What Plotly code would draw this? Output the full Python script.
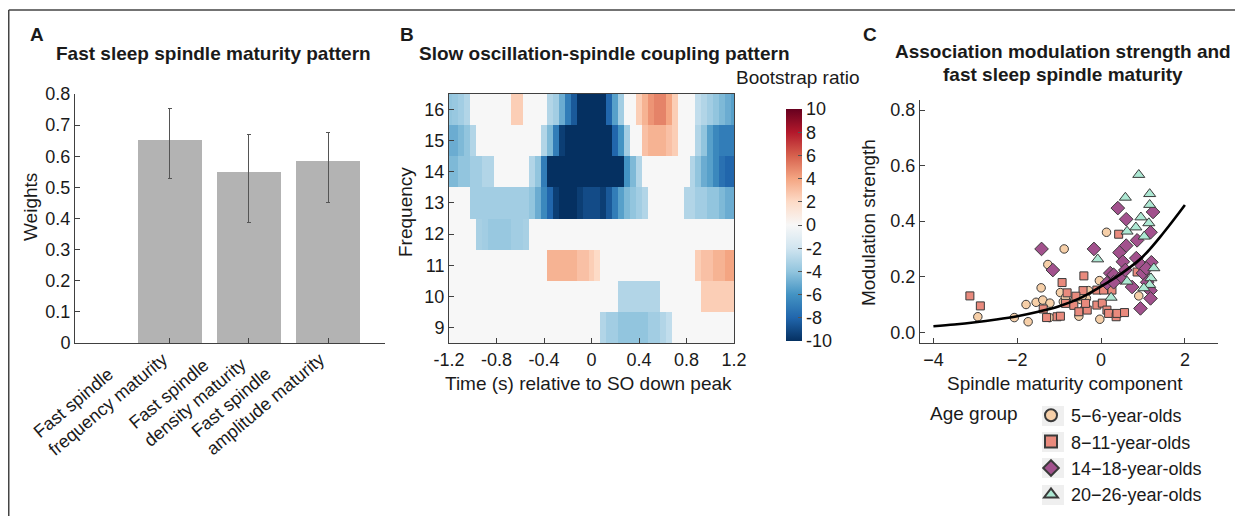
import plotly.graph_objects as go

W, H = 1243, 516
OFF = 8  # the page body adds an 8 px margin; positions below are in screen pixels
def px(x):
    return (x - OFF) / W
def py(y):
    return 1 - (y - OFF) / H

FONT = "Liberation Sans, Arial, Helvetica, sans-serif"
TXT = "#1a1a1a"
AX = "#404040"

# ---------------- Panel A data ----------------
bar_pos = [0, 1, 2]
bar_labels = ["Fast spindle<br>frequency maturity",
              "Fast spindle<br>density maturity",
              "Fast spindle<br>amplitude maturity"]
weights = [0.653, 0.549, 0.584]
ci_upper = [0.754, 0.669, 0.675]
ci_lower = [0.530, 0.387, 0.451]

# ---------------- Panel B data ----------------
times = [-1.20, -1.15, -1.10, -1.05, -1.00, -0.95, -0.90, -0.85, -0.80, -0.75,
         -0.70, -0.65, -0.60, -0.55, -0.50, -0.45, -0.40, -0.35, -0.30, -0.25,
         -0.20, -0.15, -0.10, -0.05, 0.00, 0.05, 0.10, 0.15, 0.20, 0.25,
         0.30, 0.35, 0.40, 0.45, 0.50, 0.55, 0.60, 0.65, 0.70, 0.75,
         0.80, 0.85, 0.90, 0.95, 1.00, 1.05, 1.10, 1.15, 1.20]
freqs = [9, 10, 11, 12, 13, 14, 15, 16]
bsr_f9 = [0]*26 + [-3, -3.5, -3.5, -4, -4, -4, -4, -4, -3.5, -3.5, -3, -2.5] + [0]*11
bsr_f10 = [0]*29 + [-3]*7 + [0]*7 + [2.5]*6
bsr_f11 = [0]*17 + [3.5, 3.5, 3.5, 3.5, 3.5, 3, 3, 2.5, 2] + [0]*16 + [2.5, 3, 3, 3.5, 3.5, 4, 4]
bsr_f12 = [0]*5 + [-3.3, -3.5, -3.8, -3.8, -3.8, -3.8, -3.5, -3.5, -3.3] + [0]*35
bsr_f13 = [0]*4 + [-3.5]*10 + [-4, -5, -6.5, -8, -9.5, -10, -10, -10, -9.5, -9, -9, -9, -9.5,
                               -8.5, -7, -5.5, -4.5, -4, -3.5, -3] + [0]*6 + \
          [-3, -3, -3.5, -3.5, -4, -4, -4.5, -5, -5]
bsr_f14 = [-4.5, -4.5, -4, -4, -3.5, -3.5, -3, -3] + [0]*6 + [-3, -4, -7] + [-10]*13 + \
          [-6, -4.5, -3] + [0]*8 + [-3, -4, -5, -5.5, -6.5, -7.5, -8, -8]
bsr_f15 = [-5, -5, -4.5, -4, -3] + [0]*11 + [-3, -4.5, -7, -9.5] + [-10]*8 + [-8, -6, -3.5] + \
          [0]*2 + [3, 3.5, 3.5, 3.5, 3, 2.5] + [0]*3 + [-3, -4, -5.5, -6.5, -7, -7, -7]
bsr_f16 = [-4, -3.8, -3.5, -3] + [0]*7 + [2.5, 2.5] + [0]*4 + \
          [-3, -3.5, -5, -7, -8.5, -10, -10, -10, -10, -10, -8, -5.5, -3.5] + [0]*2 + \
          [2.5, 3.5, 4.5, 5, 5, 4, 2.5] + [0]*3 + [-2.5, -3, -3.5, -4, -4.5, -5, -5.5]
bsr = [bsr_f9, bsr_f10, bsr_f11, bsr_f12, bsr_f13, bsr_f14, bsr_f15, bsr_f16]

# ---------------- Panel C data ----------------
g1_x = [-2.94, -2.07, -1.79, -1.74, -1.55, -1.43, -1.39, -1.27, -1.22, -1.23, -0.88, -0.97,
        -0.90, -0.63, -0.53, -0.49, -0.39, -0.35, -0.30, -0.04, -0.03, 0.13, 0.90, -0.85, -0.45]
g1_y = [0.056, 0.053, 0.100, 0.038, 0.108, 0.160, 0.116, 0.244, 0.105, 0.053, 0.300, 0.143,
        0.110, 0.116, 0.058, 0.118, 0.086, 0.122, 0.150, 0.186, 0.047, 0.360, 0.131, 0.125, 0.130]
g2_x = [-3.13, -2.88, -1.38, -1.30, -1.05, -0.97, -0.93, -0.81, -0.85, -0.65, -0.53, -0.43,
        -0.41, -0.33, -0.37, -0.10, -0.10, 0.03, 0.06, 0.26, 0.14, 0.18, 0.36, 0.38, 0.56,
        0.42, 0.86, -0.60]
g2_y = [0.131, 0.095, 0.084, 0.053, 0.056, 0.058, 0.179, 0.142, 0.104, 0.097, 0.074, 0.150,
        0.203, 0.080, 0.104, 0.152, 0.098, 0.105, 0.152, 0.152, 0.080, 0.068, 0.056, 0.068, 0.071,
        0.353, 0.217, 0.130]
g3_x = [-1.42, -1.15, -0.17, 0.40, 0.60, 0.60, 0.44, 0.52, 0.22, 0.30, 0.46, 0.14, 0.58,
        0.74, 0.84, 0.86, 0.97, 1.00, 0.94, 1.18, 1.24, 1.20, 1.18, 1.18, 1.10, 1.08, 0.30]
g3_y = [0.300, 0.224, 0.300, 0.447, 0.407, 0.312, 0.287, 0.254, 0.213, 0.207, 0.197, 0.177, 0.224,
        0.163, 0.267, 0.331, 0.240, 0.213, 0.086, 0.360, 0.433, 0.252, 0.150, 0.122, 0.180, 0.230, 0.180]
g4_x = [0.90, 0.58, 1.16, 1.16, 0.95, 0.83, 0.62, 1.03, 1.14, -0.08, 1.26, 1.19, 1.16, 1.02, 0.62, 0.24]
g4_y = [0.567, 0.485, 0.498, 0.459, 0.414, 0.378, 0.363, 0.345, 0.393, 0.263, 0.231, 0.195,
        0.171, 0.159, 0.183, 0.125]
fit_x = [-4, -3.5, -3, -2.5, -2, -1.5, -1, -0.5, 0, 0.5, 1, 1.5, 2]
fit_y = [0.022, 0.028, 0.036, 0.046, 0.058, 0.074, 0.094, 0.123, 0.165, 0.213, 0.273, 0.360, 0.458]
group_names = ["5\u22126-year-olds", "8\u221211-year-olds", "14\u221218-year-olds", "20\u221226-year-olds"]

# ---------------- colours ----------------
rdbu = ["#053061", "#2166ac", "#4393c3", "#92c5de", "#d1e5f0", "#f7f7f7",
        "#fddbc7", "#f4a582", "#d6604d", "#b2182b", "#67001f"]
cscale = [[i / 10, c] for i, c in enumerate(rdbu)]
group_colors = ["#f6cfa8", "#e98a7d", "#a2518d", "#ade8d3"]
group_symbols = ["circle", "square", "diamond", "triangle-up"]
group_sizes = [8.5, 8, 10.5, 10.5]

fig = go.Figure()

# Panel A bars
fig.add_trace(go.Bar(
    x=bar_pos, y=weights, width=0.81, marker=dict(color="#b3b3b3", line=dict(width=0)),
    error_y=dict(type="data", symmetric=False,
                 array=[u - v for u, v in zip(ci_upper, weights)],
                 arrayminus=[v - l for v, l in zip(weights, ci_lower)],
                 color="#555555", thickness=1, width=2),
    showlegend=False, xaxis="x", yaxis="y"))

# Panel B heatmap
fig.add_trace(go.Heatmap(
    x=times, y=freqs, z=bsr, zmin=-10, zmax=10, colorscale=cscale,
    xaxis="x2", yaxis="y2", showlegend=False,
    colorbar=dict(x=px(786), xanchor="left", y=py(225), yanchor="middle",
                  len=232, lenmode="pixels", thickness=16, thicknessmode="pixels",
                  tickvals=list(range(-10, 11, 2)),
                  ticktext=[str(v) if v >= 0 else "-" + str(-v) for v in range(-10, 11, 2)],
                  ticks="inside", ticklen=4, tickcolor="#555", outlinewidth=0, xpad=0, ypad=0,
                  tickfont=dict(size=18, color=TXT, family=FONT))))

# Panel C scatter
for gx, gy, name, col, sym, sz in zip([g1_x, g2_x, g3_x, g4_x], [g1_y, g2_y, g3_y, g4_y],
                                      group_names, group_colors, group_symbols, group_sizes):
    fig.add_trace(go.Scatter(
        x=gx, y=gy, mode="markers", name=name, legendgroup=name,
        marker=dict(symbol=sym, size=sz, color=col, line=dict(color="#3a3a3a", width=1)),
        xaxis="x3", yaxis="y3"))
fig.add_trace(go.Scatter(x=fit_x, y=fit_y, mode="lines", line=dict(color="black", width=2.6, shape="spline"),
                         showlegend=False, xaxis="x3", yaxis="y3"))

axis_common = dict(showgrid=False, zeroline=False, showline=True, linecolor=AX, linewidth=1,
                   ticks="inside", ticklen=5, tickcolor=AX, automargin=False,
                   tickfont=dict(size=18, color=TXT, family=FONT))

fig.update_layout(
    template="none",
    width=W, height=H, margin=dict(l=0, r=0, t=0, b=0, pad=0), autosize=False,
    paper_bgcolor="white", plot_bgcolor="rgba(0,0,0,0)",
    font=dict(family=FONT, color=TXT, size=18),
    xaxis=dict(domain=[px(75), px(385)], range=[-1.2, 2.72], anchor="y",
               tickvals=bar_pos, showticklabels=False, **axis_common),
    yaxis=dict(domain=[py(343), py(94)], range=[0, 0.8], anchor="x",
               tickvals=[0, 0.1, 0.2, 0.3, 0.4, 0.5, 0.6, 0.7, 0.8],
               ticktext=["0", "0.1", "0.2", "0.3", "0.4", "0.5", "0.6", "0.7", "0.8"], **axis_common),
    xaxis2=dict(domain=[px(449), px(734)], range=[-1.2, 1.2], anchor="y2", mirror=True,
                tickvals=[-1.2, -0.8, -0.4, 0, 0.4, 0.8, 1.2],
                ticktext=["-1.2", "-0.8", "-0.4", "0", "0.4", "0.8", "1.2"], **axis_common),
    yaxis2=dict(domain=[py(343), py(94)], range=[8.5, 16.5], anchor="x2", mirror=True,
                tickvals=freqs, **axis_common),
    xaxis3=dict(domain=[px(920), px(1218)], range=[-4.32, 2.79], anchor="y3",
                tickvals=[-4, -2, 0, 2], **axis_common),
    yaxis3=dict(domain=[py(343), py(100)], range=[-0.0385, 0.836], anchor="x3",
                tickvals=[0, 0.2, 0.4, 0.6, 0.8], tickformat=".1f", **axis_common),
    legend=dict(x=px(1031), y=py(513), xanchor="left", yanchor="bottom",
                font=dict(size=18, color=TXT, family=FONT), bgcolor="rgba(0,0,0,0)",
                tracegroupgap=0, itemsizing="constant", borderwidth=0),
    bargap=0,
)

annots = []
def add_text(text, x, y, size=19, bold=False, angle=0, xanchor="center", yanchor="middle"):
    annots.append(dict(text=("<b>%s</b>" % text) if bold else text, x=px(x), y=py(y),
                       xref="paper", yref="paper", showarrow=False, textangle=angle,
                       xanchor=xanchor, yanchor=yanchor,
                       font=dict(size=size, color=TXT, family=FONT)))

add_text("A", 37, 35, bold=True)
add_text("B", 407, 35, bold=True)
add_text("C", 870, 35, bold=True)
add_text("Fast sleep spindle maturity pattern", 213, 53, bold=True)
add_text("Slow oscillation-spindle coupling pattern", 604, 53, bold=True)
add_text("Association modulation strength and", 1063, 51, bold=True)
add_text("fast sleep spindle maturity", 1063, 74, bold=True)
add_text("Weights", 30, 207, angle=-90)
add_text("Frequency", 405, 212, angle=-90)
add_text("Time (s) relative to SO down peak", 588, 383)
add_text("Bootstrap ratio", 798, 77)
add_text("Modulation strength", 868, 223, angle=-90)
add_text("Spindle maturity component", 1065, 383)
add_text("Age group", 928, 413, xanchor="left")

# rotated category labels for panel A
label_shift = [(-70, -52), (-62, -50), (-71, -52)]
for pos, lab, (dx, dy) in zip(bar_pos, bar_labels, label_shift):
    annots.append(dict(text=lab, x=pos, y=0, xref="x", yref="y", showarrow=False,
                       textangle=-40, align="left", xanchor="center", yanchor="middle",
                       xshift=dx, yshift=dy, font=dict(size=18, color=TXT, family=FONT)))

fig.update_layout(annotations=annots)

# light grey patches behind the legend symbols
for cy in [416, 442, 468, 495]:
    fig.add_shape(type="rect", xref="paper", yref="paper", layer="below",
                  x0=px(1042), x1=px(1064), y0=py(cy + 10), y1=py(cy - 10),
                  fillcolor="#efefef", line=dict(width=0))

# outer frame (top and left edges)
fig.add_shape(type="line", xref="paper", yref="paper", x0=px(8.75), y0=py(10), x1=1.0, y1=py(10),
              line=dict(color="#444", width=1.5))
fig.add_shape(type="line", xref="paper", yref="paper", x0=px(8.75), y0=py(10), x1=px(8.75), y1=0,
              line=dict(color="#444", width=1.5))

fig.write_html("out.html")
